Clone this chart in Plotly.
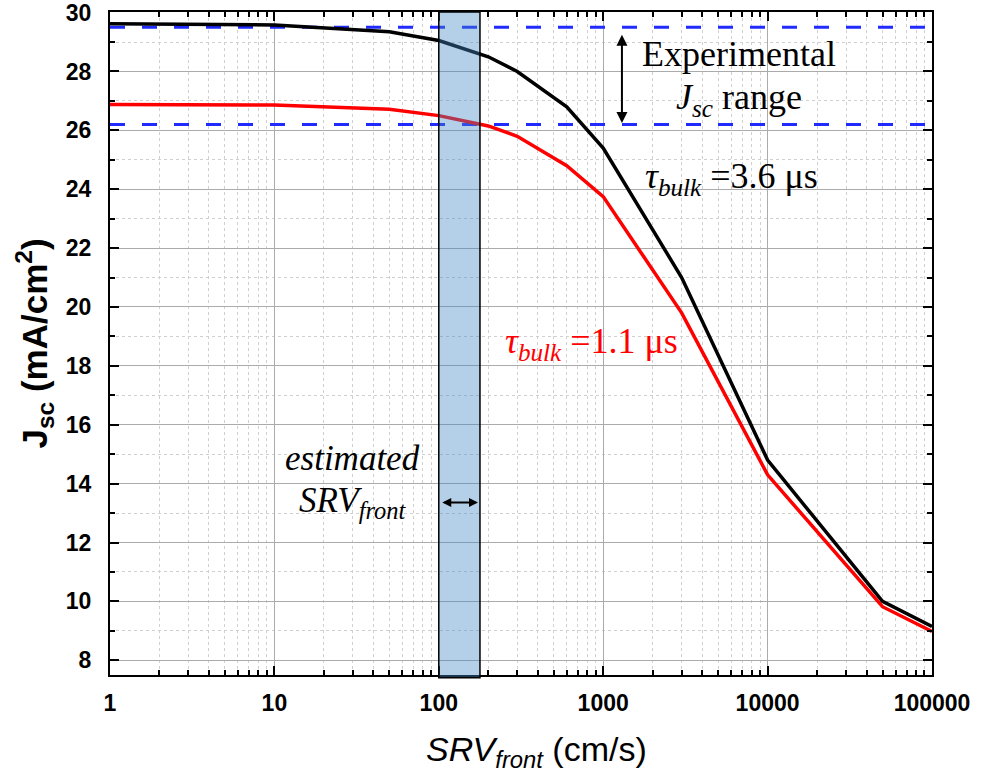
import math
import plotly.graph_objects as go

# ---- data ----
srv = [1, 10, 50, 100, 200, 300, 600, 1000, 3000, 10000, 50000, 100000]
jsc_36us = [29.62, 29.58, 29.35, 29.05, 28.5, 28.0, 26.8, 25.4, 21.0, 14.8, 10.0, 9.15]
jsc_11us = [26.88, 26.86, 26.72, 26.5, 26.15, 25.8, 24.8, 23.75, 19.8, 14.3, 9.82, 8.98]

exp_range = [26.2, 29.5]          # experimental Jsc range (dashed lines)
srv_band = [100, 178]             # estimated SRV_front band
x_span = [1, 100000]

x_ticks = [1, 10, 100, 1000, 10000, 100000]
x_tick_text = ["1", "10", "100", "1000", "10000", "100000"]
y_ticks = [8, 10, 12, 14, 16, 18, 20, 22, 24, 26, 28, 30]
y_tick_text = [str(v) for v in y_ticks]

SERIF = "Liberation Serif, Times New Roman, serif"
SANS = "Liberation Sans, Arial, sans-serif"

fig = go.Figure()

# dashed experimental range lines
for yv in exp_range:
    fig.add_trace(go.Scatter(
        x=x_span, y=[yv, yv], mode="lines",
        line=dict(color="#1f2bff", width=3, dash="15px,17px"),
        hoverinfo="skip", showlegend=False))

fig.add_trace(go.Scatter(x=srv, y=jsc_36us, mode="lines",
                         line=dict(color="black", width=3.5),
                         showlegend=False))
fig.add_trace(go.Scatter(x=srv, y=jsc_11us, mode="lines",
                         line=dict(color="#ff0000", width=3.5),
                         showlegend=False))

# shaded band (above the curves, semi-transparent)
fig.add_shape(type="rect", xref="x", yref="paper",
              x0=srv_band[0], x1=srv_band[1], y0=-0.004, y1=1,
              fillcolor="#4387c5", opacity=0.4, line=dict(width=0),
              layer="above")
fig.add_shape(type="rect", xref="x", yref="paper",
              x0=srv_band[0], x1=srv_band[1], y0=-0.004, y1=1,
              fillcolor="rgba(0,0,0,0)", line=dict(color="black", width=1.5),
              layer="above")

lg = math.log10

# vertical double arrow (experimental range)
fig.add_annotation(x=lg(1300), y=26.25, ax=lg(1300), ay=29.3,
                   xref="x", yref="y", axref="x", ayref="y",
                   text="", showarrow=True, arrowhead=2, arrowside="end+start",
                   arrowsize=1.1, arrowwidth=2, arrowcolor="black")
# horizontal double arrow (band)
fig.add_annotation(x=lg(srv_band[1]) - 0.012, y=13.36,
                   ax=lg(srv_band[0]) + 0.012, ay=13.36,
                   xref="x", yref="y", axref="x", ayref="y",
                   text="", showarrow=True, arrowhead=2, arrowside="end+start",
                   arrowsize=0.9, arrowwidth=2, arrowcolor="black")

fig.add_annotation(x=lg(6700), y=28.6, xref="x", yref="y",
                   text="Experimental", showarrow=False,
                   font=dict(family=SERIF, size=36, color="black"))
fig.add_annotation(x=lg(6700), y=27.05, xref="x", yref="y",
                   text="<i>J<sub>sc</sub></i> range", showarrow=False,
                   font=dict(family=SERIF, size=36, color="black"))
fig.add_annotation(x=lg(1750), y=24.35, xref="x", yref="y", xanchor="left",
                   text="<i>τ<sub>bulk</sub></i> =3.6 μs", showarrow=False,
                   font=dict(family=SERIF, size=36, color="black"))
fig.add_annotation(x=lg(245), y=18.75, xref="x", yref="y", xanchor="left",
                   text="<i>τ<sub>bulk</sub></i> =1.1 μs", showarrow=False,
                   font=dict(family=SERIF, size=36, color="#ff0000"))
fig.add_annotation(x=lg(30), y=14.85, xref="x", yref="y",
                   text="<i>estimated</i>", showarrow=False,
                   font=dict(family=SERIF, size=35, color="black"))
fig.add_annotation(x=lg(30), y=13.35, xref="x", yref="y",
                   text="<i>SRV<sub>front</sub></i>", showarrow=False,
                   font=dict(family=SERIF, size=35, color="black"))

# x-axis title (placed as annotation to match the reference's offset)
fig.add_annotation(x=0.5, y=0, xref="paper", yref="paper",
                   xanchor="center", yanchor="middle", xshift=15, yshift=-76,
                   text="<i>SRV<sub>front</sub></i> (cm/s)", showarrow=False,
                   font=dict(family=SANS, size=34, color="black"))

axis_common = dict(
    showline=True, linewidth=2, linecolor="black", mirror="allticks",
    ticks="inside", ticklen=9, tickwidth=2, tickcolor="black",
    showgrid=True, gridcolor="#ababab", gridwidth=1, zeroline=False,
    tickfont=dict(family=SANS, size=23, color="black", weight="bold"),
    automargin=False, ticklabeloverflow="allow",
)

fig.update_xaxes(
    type="log", range=[0, 5],
    tickvals=x_ticks, ticktext=x_tick_text,
    minor=dict(ticks="inside", ticklen=5, tickwidth=1.5, tickcolor="black",
               showgrid=True, gridcolor="#d0d0d0", griddash="dot", gridwidth=1,
               dtick="D1"),
    ticklabelstandoff=6,
    **axis_common)
fig.update_yaxes(
    range=[7.5, 30.02],
    tickvals=y_ticks, ticktext=y_tick_text,
    minor=dict(ticks="inside", ticklen=5, tickwidth=1.5, tickcolor="black",
               showgrid=True, gridcolor="#d0d0d0", griddash="dot", gridwidth=1,
               dtick=1),
    title=dict(text="<b>J<sub>sc</sub> (mA/cm<sup>2</sup>)</b>",
               font=dict(family=SANS, size=35, color="black"), standoff=8),
    ticklabelstandoff=12,
    **axis_common)

fig.update_layout(
    width=982, height=782,
    margin=dict(l=110, r=50, t=12, b=107),
    paper_bgcolor="white", plot_bgcolor="white",
    showlegend=False,
)

fig.write_html("out.html",
               config={"displayModeBar": False},
               post_script="document.body.style.margin='0px';"
                           "document.body.style.overflow='hidden';")
